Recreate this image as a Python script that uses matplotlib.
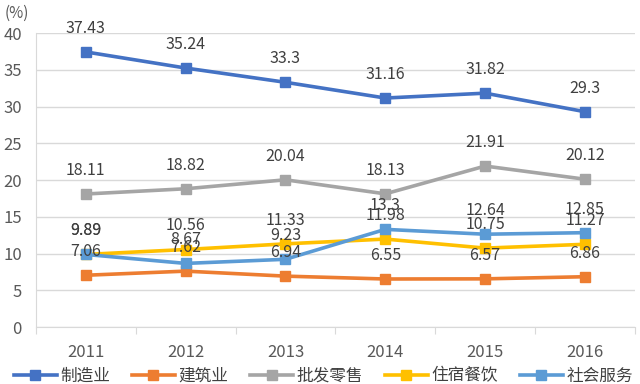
import matplotlib
matplotlib.use("Agg")
import matplotlib.pyplot as plt

plt.rcParams['font.family'] = ['Noto Sans CJK SC', 'DejaVu Sans']

years = ['2011', '2012', '2013', '2014', '2015', '2016']
names = ['制造业', '建筑业', '批发零售', '住宿餐饮', '社会服务']
manufacturing = [37.43, 35.24, 33.3, 31.16, 31.82, 29.3]
construction = [7.06, 7.62, 6.94, 6.55, 6.57, 6.86]
retail = [18.11, 18.82, 20.04, 18.13, 21.91, 20.12]
hospitality = [9.89, 10.56, 11.33, 11.98, 10.75, 11.27]
social = [9.89, 8.67, 9.23, 13.3, 12.64, 12.85]
colors = ['#4472C4', '#ED7D31', '#A5A5A5', '#FFC000', '#5B9BD5']

series = [manufacturing, construction, retail, hospitality, social]

fig = plt.figure(figsize=(6.4, 3.84), dpi=100)
ax = fig.add_axes([0.056, 0.148, 0.936, 0.766])

x = list(range(len(years)))
for vals, name, c in zip(series, names, colors):
    ax.plot(x, vals, color=c, lw=2.6, marker='s', markersize=7,
            markerfacecolor=c, markeredgecolor=c, label=name, zorder=3)
    # 数据标签
    for xi, v in zip(x, vals):
        ax.annotate(f'{v:g}', (xi, v), xytext=(0, 17), textcoords='offset points',
                    ha='center', va='center', fontsize=11.5, color='#404040', zorder=5)

ax.set_xlim(-0.5, 5.5)
ax.set_ylim(0, 40)
ax.set_yticks(range(0, 41, 5))
ax.set_xticks([i - 0.5 for i in range(7)], minor=False)
ax.set_xticklabels([])
ax.set_xticks(x, minor=True)
ax.set_xticklabels(years, minor=True)
ax.tick_params(axis='x', which='major', length=5, color='#d9d9d9', direction='out')
ax.tick_params(axis='x', which='minor', length=0, labelsize=12, labelcolor='#595959', pad=12)
ax.tick_params(axis='y', length=0, labelsize=12, labelcolor='#595959', pad=10)
ax.grid(axis='y', color='#d9d9d9', lw=1)
ax.set_axisbelow(True)
for s in ['top', 'right']:
    ax.spines[s].set_visible(False)
ax.spines['left'].set_color('#d9d9d9')
ax.spines['bottom'].set_color('#d9d9d9')

fig.text(0.008, 0.965, '(%)', fontsize=11, color='#595959', va='center')

fig.legend(loc='lower center', bbox_to_anchor=(0.505, -0.04), ncol=5, frameon=False,
           fontsize=12, handlelength=2.6, columnspacing=1.3, handletextpad=0.2,
           labelcolor='#404040')

fig.savefig('out.png', dpi=100)
